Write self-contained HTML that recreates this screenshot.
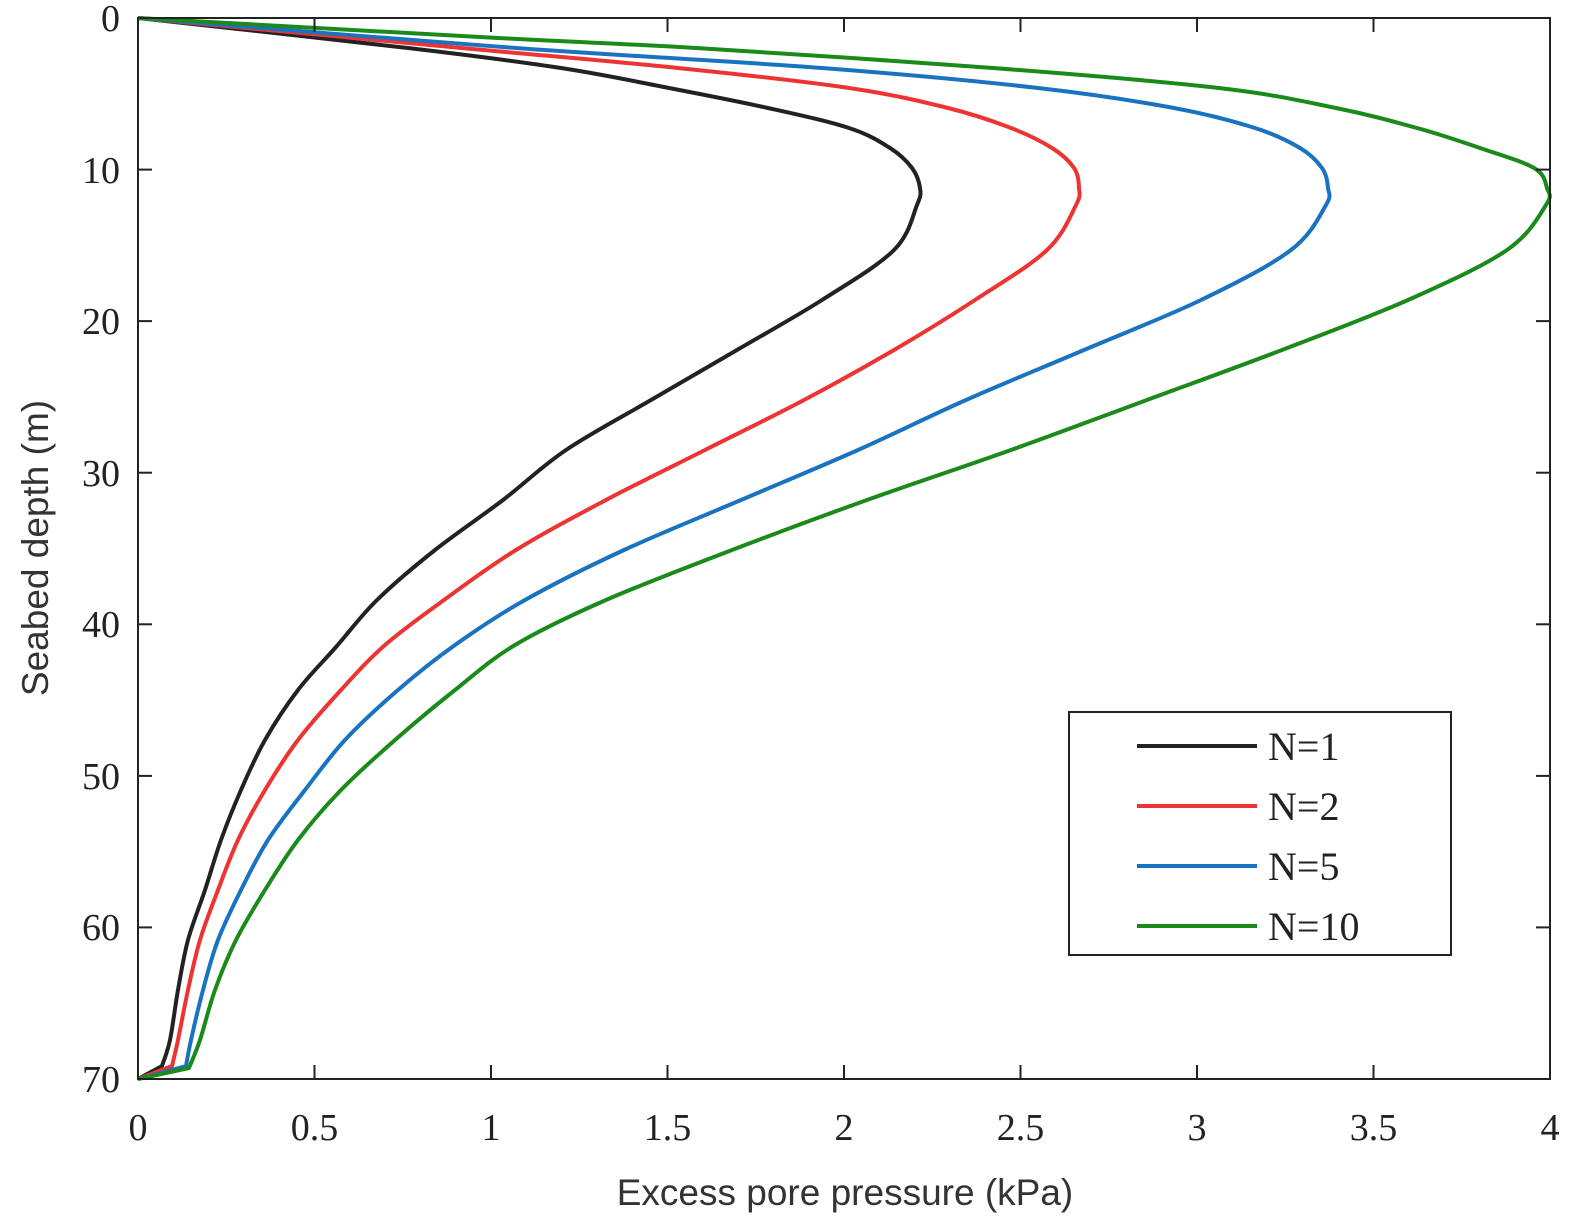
<!DOCTYPE html>
<html><head><meta charset="utf-8"><style>
body{margin:0;background:#fff}
svg{display:block}
.t{font-family:"Liberation Serif",serif;font-size:38px;fill:#222}
.a{font-family:"Liberation Sans",sans-serif;font-size:37px;fill:#333}
</style></head><body>
<svg id="s" width="1577" height="1229" viewBox="0 0 1577 1229" xmlns="http://www.w3.org/2000/svg">
<rect x="0" y="0" width="1577" height="1229" fill="#fff"/>
<g id="curves" fill="none" stroke-width="4" stroke-linejoin="round"></g>
<rect x="138" y="18" width="1412" height="1061" fill="none" stroke="#222" stroke-width="2"/>
<g stroke="#222" stroke-width="2">
<line x1="138" y1="169.6" x2="152" y2="169.6"/><line x1="1550" y1="169.6" x2="1536" y2="169.6"/>
<line x1="138" y1="321.1" x2="152" y2="321.1"/><line x1="1550" y1="321.1" x2="1536" y2="321.1"/>
<line x1="138" y1="472.7" x2="152" y2="472.7"/><line x1="1550" y1="472.7" x2="1536" y2="472.7"/>
<line x1="138" y1="624.3" x2="152" y2="624.3"/><line x1="1550" y1="624.3" x2="1536" y2="624.3"/>
<line x1="138" y1="775.9" x2="152" y2="775.9"/><line x1="1550" y1="775.9" x2="1536" y2="775.9"/>
<line x1="138" y1="927.4" x2="152" y2="927.4"/><line x1="1550" y1="927.4" x2="1536" y2="927.4"/>
<line x1="314.5" y1="1079" x2="314.5" y2="1065"/><line x1="314.5" y1="18" x2="314.5" y2="32"/>
<line x1="491" y1="1079" x2="491" y2="1065"/><line x1="491" y1="18" x2="491" y2="32"/>
<line x1="667.5" y1="1079" x2="667.5" y2="1065"/><line x1="667.5" y1="18" x2="667.5" y2="32"/>
<line x1="844" y1="1079" x2="844" y2="1065"/><line x1="844" y1="18" x2="844" y2="32"/>
<line x1="1020.5" y1="1079" x2="1020.5" y2="1065"/><line x1="1020.5" y1="18" x2="1020.5" y2="32"/>
<line x1="1197" y1="1079" x2="1197" y2="1065"/><line x1="1197" y1="18" x2="1197" y2="32"/>
<line x1="1373.5" y1="1079" x2="1373.5" y2="1065"/><line x1="1373.5" y1="18" x2="1373.5" y2="32"/>
</g>
<g class="t" text-anchor="end">
<text x="120" y="31">0</text><text x="120" y="183">10</text><text x="120" y="334">20</text><text x="120" y="486">30</text>
<text x="120" y="637">40</text><text x="120" y="789">50</text><text x="120" y="940">60</text><text x="120" y="1092">70</text>
</g>
<g class="t" text-anchor="middle">
<text x="138" y="1140">0</text><text x="314.5" y="1140">0.5</text><text x="491" y="1140">1</text><text x="667.5" y="1140">1.5</text>
<text x="844" y="1140">2</text><text x="1020.5" y="1140">2.5</text><text x="1197" y="1140">3</text><text x="1373.5" y="1140">3.5</text><text x="1550" y="1140">4</text>
</g>
<text class="a" x="845" y="1205" text-anchor="middle">Excess pore pressure (kPa)</text>
<text class="a" transform="translate(48,548) rotate(-90)" text-anchor="middle">Seabed depth (m)</text>
<rect x="1069" y="712" width="382" height="243" fill="#fff" stroke="#222" stroke-width="2"/>
<g stroke-width="4">
<line x1="1137" y1="746" x2="1257" y2="746" stroke="#222"/>
<line x1="1137" y1="806" x2="1257" y2="806" stroke="#e33"/>
<line x1="1137" y1="866" x2="1257" y2="866" stroke="#1a73c0"/>
<line x1="1137" y1="926" x2="1257" y2="926" stroke="#1a8a1a"/>
</g>
<g class="t" style="font-size:40px">
<text x="1268" y="760">N=1</text><text x="1268" y="820">N=2</text><text x="1268" y="880">N=5</text><text x="1268" y="940">N=10</text>
</g>
</svg>
<script>
var data=[
["#222",[[138,18],[408,48],[561,68],[669,88],[768,108],[849,128],[890,148],[912,168],[920,188],[917,205],[894,250],[822,300],[737,350],[651,400],[566,450],[503,500],[435,550],[377,600],[336,647],[298,690],[265,740],[241,790],[221,840],[205,890],[188,940],[178,990],[170,1040],[162,1066]]],
["#e33",[[138,18],[462,48],[678,68],[849,88],[948,108],[1011,128],[1052,148],[1074,168],[1079,188],[1076,205],[1047,250],[975,300],[894,350],[804,400],[705,450],[606,500],[516,550],[444,600],[385,645],[341,690],[298,740],[265,790],[238,840],[218,890],[200,940],[188,990],[178,1040],[172,1066]]],
["#1a73c0",[[138,18],[516,48],[822,68],[1038,88],[1174,108],[1255,128],[1300,148],[1322,168],[1328,188],[1326,205],[1291,250],[1201,300],[1084,350],[966,400],[858,450],[741,500],[624,550],[525,600],[455,645],[398,690],[345,740],[305,790],[268,840],[241,890],[218,940],[203,990],[191,1040],[186,1066]]],
["#1a8a1a",[[138,18],[498,38],[696,48],[993,68],[1219,88],[1336,108],[1417,128],[1480,148],[1534,168],[1547,188],[1546,205],[1507,250],[1408,300],[1282,350],[1147,400],[1011,450],[867,500],[732,550],[606,600],[515,645],[455,690],[395,740],[341,790],[298,840],[265,890],[236,940],[215,990],[200,1040],[189,1068]]]
];
var g=document.getElementById("curves");
data.forEach(function(c){
 var p=c[1],d="M"+p[0][0]+","+p[0][1];
 for(var i=0;i<p.length-1;i++){
  var p0=p[i-1]||p[i],p1=p[i],p2=p[i+1],p3=p[i+2]||p2;
  var c1x=p1[0]+(p2[0]-p0[0])/6,c1y=p1[1]+(p2[1]-p0[1])/6;
  var c2x=p2[0]-(p3[0]-p1[0])/6,c2y=p2[1]-(p3[1]-p1[1])/6;
  d+=" C"+c1x+","+c1y+" "+c2x+","+c2y+" "+p2[0]+","+p2[1];
 }
 d+=" L138,1079";
 var e=document.createElementNS("http://www.w3.org/2000/svg","path");
 e.setAttribute("d",d);e.setAttribute("stroke",c[0]);g.appendChild(e);
});
</script>
</body></html>
